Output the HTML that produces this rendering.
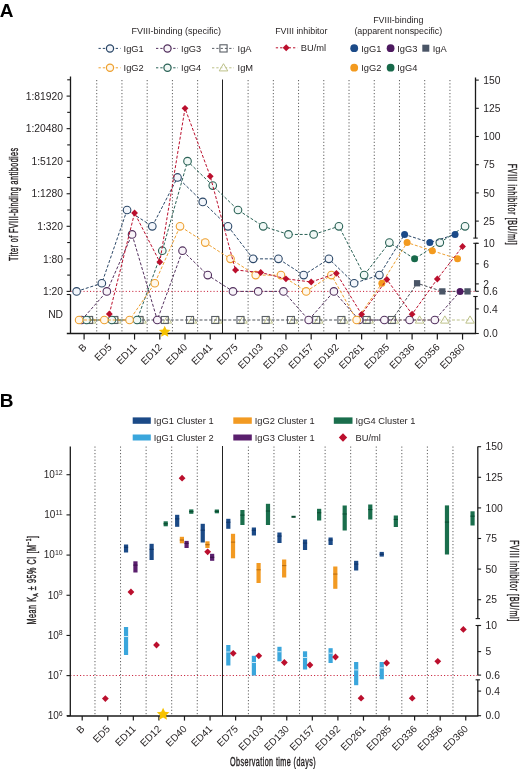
<!DOCTYPE html>
<html><head><meta charset="utf-8"><style>
html,body{margin:0;padding:0;background:#fff;}
svg{display:block;will-change:transform;}
text{font-family:"Liberation Sans",sans-serif;}
</style></head><body>
<svg width="520" height="769" viewBox="0 0 520 769" font-family="Liberation Sans, sans-serif">
<rect width="520" height="769" fill="#fff"/>
<text x="-0.20" y="16.50" font-size="19" text-anchor="start" fill="#000" font-weight="bold">A</text>
<line x1="96.72" y1="80.00" x2="96.72" y2="333.50" stroke="#5e5e5e" stroke-width="1.0" stroke-dasharray="1.2,2.05"/>
<line x1="121.95" y1="80.00" x2="121.95" y2="333.50" stroke="#5e5e5e" stroke-width="1.0" stroke-dasharray="1.2,2.05"/>
<line x1="147.18" y1="80.00" x2="147.18" y2="333.50" stroke="#5e5e5e" stroke-width="1.0" stroke-dasharray="1.2,2.05"/>
<line x1="172.41" y1="80.00" x2="172.41" y2="333.50" stroke="#5e5e5e" stroke-width="1.0" stroke-dasharray="1.2,2.05"/>
<line x1="197.64" y1="80.00" x2="197.64" y2="333.50" stroke="#5e5e5e" stroke-width="1.0" stroke-dasharray="1.2,2.05"/>
<line x1="222.50" y1="79.50" x2="222.50" y2="333.50" stroke="#222" stroke-width="1.0"/>
<line x1="248.10" y1="80.00" x2="248.10" y2="333.50" stroke="#5e5e5e" stroke-width="1.0" stroke-dasharray="1.2,2.05"/>
<line x1="273.33" y1="80.00" x2="273.33" y2="333.50" stroke="#5e5e5e" stroke-width="1.0" stroke-dasharray="1.2,2.05"/>
<line x1="298.56" y1="80.00" x2="298.56" y2="333.50" stroke="#5e5e5e" stroke-width="1.0" stroke-dasharray="1.2,2.05"/>
<line x1="323.79" y1="80.00" x2="323.79" y2="333.50" stroke="#5e5e5e" stroke-width="1.0" stroke-dasharray="1.2,2.05"/>
<line x1="349.02" y1="80.00" x2="349.02" y2="333.50" stroke="#5e5e5e" stroke-width="1.0" stroke-dasharray="1.2,2.05"/>
<line x1="374.25" y1="80.00" x2="374.25" y2="333.50" stroke="#5e5e5e" stroke-width="1.0" stroke-dasharray="1.2,2.05"/>
<line x1="399.48" y1="80.00" x2="399.48" y2="333.50" stroke="#5e5e5e" stroke-width="1.0" stroke-dasharray="1.2,2.05"/>
<line x1="424.71" y1="80.00" x2="424.71" y2="333.50" stroke="#5e5e5e" stroke-width="1.0" stroke-dasharray="1.2,2.05"/>
<line x1="449.94" y1="80.00" x2="449.94" y2="333.50" stroke="#5e5e5e" stroke-width="1.0" stroke-dasharray="1.2,2.05"/>
<line x1="70.50" y1="291.40" x2="475.50" y2="291.40" stroke="#c8203a" stroke-width="1.0" stroke-dasharray="1.1,2.15"/>
<line x1="70.50" y1="76.50" x2="70.50" y2="291.60" stroke="#1a1a1a" stroke-width="1.3"/>
<line x1="70.50" y1="294.50" x2="70.50" y2="333.50" stroke="#1a1a1a" stroke-width="1.3"/>
<line x1="66.80" y1="294.50" x2="70.50" y2="294.50" stroke="#1a1a1a" stroke-width="1.1"/>
<line x1="66.80" y1="333.50" x2="476.10" y2="333.50" stroke="#1a1a1a" stroke-width="1.3"/>
<line x1="66.60" y1="96.10" x2="70.50" y2="96.10" stroke="#1a1a1a" stroke-width="1.1"/>
<text x="63.00" y="99.80" font-size="10.3" text-anchor="end" fill="#231f20">1:81920</text>
<line x1="67.20" y1="79.80" x2="70.50" y2="79.80" stroke="#1a1a1a" stroke-width="1.1"/>
<line x1="66.60" y1="128.65" x2="70.50" y2="128.65" stroke="#1a1a1a" stroke-width="1.1"/>
<text x="63.00" y="132.35" font-size="10.3" text-anchor="end" fill="#231f20">1:20480</text>
<line x1="67.20" y1="112.35" x2="70.50" y2="112.35" stroke="#1a1a1a" stroke-width="1.1"/>
<line x1="66.60" y1="161.20" x2="70.50" y2="161.20" stroke="#1a1a1a" stroke-width="1.1"/>
<text x="63.00" y="164.90" font-size="10.3" text-anchor="end" fill="#231f20">1:5120</text>
<line x1="67.20" y1="144.90" x2="70.50" y2="144.90" stroke="#1a1a1a" stroke-width="1.1"/>
<line x1="66.60" y1="193.75" x2="70.50" y2="193.75" stroke="#1a1a1a" stroke-width="1.1"/>
<text x="63.00" y="197.45" font-size="10.3" text-anchor="end" fill="#231f20">1:1280</text>
<line x1="67.20" y1="177.45" x2="70.50" y2="177.45" stroke="#1a1a1a" stroke-width="1.1"/>
<line x1="66.60" y1="226.30" x2="70.50" y2="226.30" stroke="#1a1a1a" stroke-width="1.1"/>
<text x="63.00" y="230.00" font-size="10.3" text-anchor="end" fill="#231f20">1:320</text>
<line x1="67.20" y1="210.00" x2="70.50" y2="210.00" stroke="#1a1a1a" stroke-width="1.1"/>
<line x1="66.60" y1="258.85" x2="70.50" y2="258.85" stroke="#1a1a1a" stroke-width="1.1"/>
<text x="63.00" y="262.55" font-size="10.3" text-anchor="end" fill="#231f20">1:80</text>
<line x1="67.20" y1="242.55" x2="70.50" y2="242.55" stroke="#1a1a1a" stroke-width="1.1"/>
<line x1="66.60" y1="291.40" x2="70.50" y2="291.40" stroke="#1a1a1a" stroke-width="1.1"/>
<text x="63.00" y="295.10" font-size="10.3" text-anchor="end" fill="#231f20">1:20</text>
<line x1="67.20" y1="275.10" x2="70.50" y2="275.10" stroke="#1a1a1a" stroke-width="1.1"/>
<text x="63.00" y="317.70" font-size="10.3" text-anchor="end" fill="#231f20">ND</text>
<line x1="475.50" y1="77.50" x2="475.50" y2="238.10" stroke="#1a1a1a" stroke-width="1.3"/>
<line x1="473.30" y1="238.10" x2="477.70" y2="238.10" stroke="#1a1a1a" stroke-width="1.1"/>
<line x1="475.50" y1="243.30" x2="475.50" y2="291.30" stroke="#1a1a1a" stroke-width="1.3"/>
<line x1="473.30" y1="243.30" x2="477.70" y2="243.30" stroke="#1a1a1a" stroke-width="1.1"/>
<line x1="475.50" y1="296.50" x2="475.50" y2="333.50" stroke="#1a1a1a" stroke-width="1.3"/>
<line x1="473.30" y1="296.50" x2="477.70" y2="296.50" stroke="#1a1a1a" stroke-width="1.1"/>
<line x1="475.50" y1="80.10" x2="478.80" y2="80.10" stroke="#1a1a1a" stroke-width="1.1"/>
<text x="483.30" y="83.80" font-size="10.3" text-anchor="start" fill="#231f20">150</text>
<line x1="475.50" y1="108.30" x2="478.80" y2="108.30" stroke="#1a1a1a" stroke-width="1.1"/>
<text x="483.30" y="112.00" font-size="10.3" text-anchor="start" fill="#231f20">125</text>
<line x1="475.50" y1="136.50" x2="478.80" y2="136.50" stroke="#1a1a1a" stroke-width="1.1"/>
<text x="483.30" y="140.20" font-size="10.3" text-anchor="start" fill="#231f20">100</text>
<line x1="475.50" y1="164.70" x2="478.80" y2="164.70" stroke="#1a1a1a" stroke-width="1.1"/>
<text x="483.30" y="168.40" font-size="10.3" text-anchor="start" fill="#231f20">75</text>
<line x1="475.50" y1="192.90" x2="478.80" y2="192.90" stroke="#1a1a1a" stroke-width="1.1"/>
<text x="483.30" y="196.60" font-size="10.3" text-anchor="start" fill="#231f20">50</text>
<line x1="475.50" y1="221.10" x2="478.80" y2="221.10" stroke="#1a1a1a" stroke-width="1.1"/>
<text x="483.30" y="224.80" font-size="10.3" text-anchor="start" fill="#231f20">25</text>
<line x1="475.50" y1="243.30" x2="478.80" y2="243.30" stroke="#1a1a1a" stroke-width="1.1"/>
<text x="483.30" y="247.00" font-size="10.3" text-anchor="start" fill="#231f20">10</text>
<line x1="475.50" y1="263.80" x2="478.80" y2="263.80" stroke="#1a1a1a" stroke-width="1.1"/>
<text x="483.30" y="267.50" font-size="10.3" text-anchor="start" fill="#231f20">6</text>
<line x1="475.50" y1="283.90" x2="478.80" y2="283.90" stroke="#1a1a1a" stroke-width="1.1"/>
<text x="483.30" y="287.60" font-size="10.3" text-anchor="start" fill="#231f20">2</text>
<line x1="475.50" y1="291.30" x2="478.80" y2="291.30" stroke="#1a1a1a" stroke-width="1.1"/>
<text x="483.30" y="295.00" font-size="10.3" text-anchor="start" fill="#231f20">0.6</text>
<line x1="475.50" y1="308.90" x2="478.80" y2="308.90" stroke="#1a1a1a" stroke-width="1.1"/>
<text x="483.30" y="312.60" font-size="10.3" text-anchor="start" fill="#231f20">0.4</text>
<line x1="475.50" y1="333.50" x2="478.80" y2="333.50" stroke="#1a1a1a" stroke-width="1.1"/>
<text x="483.30" y="337.20" font-size="10.3" text-anchor="start" fill="#231f20">0.0</text>
<line x1="84.10" y1="333.50" x2="84.10" y2="339.60" stroke="#1a1a1a" stroke-width="1.2"/>
<text transform="translate(87.10,347.80) rotate(-45)" font-size="10" text-anchor="end" fill="#231f20">B</text>
<line x1="109.33" y1="333.50" x2="109.33" y2="339.60" stroke="#1a1a1a" stroke-width="1.2"/>
<text transform="translate(112.33,347.80) rotate(-45)" font-size="10" text-anchor="end" fill="#231f20">ED5</text>
<line x1="134.56" y1="333.50" x2="134.56" y2="339.60" stroke="#1a1a1a" stroke-width="1.2"/>
<text transform="translate(137.56,347.80) rotate(-45)" font-size="10" text-anchor="end" fill="#231f20">ED11</text>
<line x1="159.79" y1="333.50" x2="159.79" y2="339.60" stroke="#1a1a1a" stroke-width="1.2"/>
<text transform="translate(162.79,347.80) rotate(-45)" font-size="10" text-anchor="end" fill="#231f20">ED12</text>
<line x1="185.02" y1="333.50" x2="185.02" y2="339.60" stroke="#1a1a1a" stroke-width="1.2"/>
<text transform="translate(188.02,347.80) rotate(-45)" font-size="10" text-anchor="end" fill="#231f20">ED40</text>
<line x1="210.25" y1="333.50" x2="210.25" y2="339.60" stroke="#1a1a1a" stroke-width="1.2"/>
<text transform="translate(213.25,347.80) rotate(-45)" font-size="10" text-anchor="end" fill="#231f20">ED41</text>
<line x1="235.48" y1="333.50" x2="235.48" y2="339.60" stroke="#1a1a1a" stroke-width="1.2"/>
<text transform="translate(238.48,347.80) rotate(-45)" font-size="10" text-anchor="end" fill="#231f20">ED75</text>
<line x1="260.71" y1="333.50" x2="260.71" y2="339.60" stroke="#1a1a1a" stroke-width="1.2"/>
<text transform="translate(263.71,347.80) rotate(-45)" font-size="10" text-anchor="end" fill="#231f20">ED103</text>
<line x1="285.94" y1="333.50" x2="285.94" y2="339.60" stroke="#1a1a1a" stroke-width="1.2"/>
<text transform="translate(288.94,347.80) rotate(-45)" font-size="10" text-anchor="end" fill="#231f20">ED130</text>
<line x1="311.17" y1="333.50" x2="311.17" y2="339.60" stroke="#1a1a1a" stroke-width="1.2"/>
<text transform="translate(314.17,347.80) rotate(-45)" font-size="10" text-anchor="end" fill="#231f20">ED157</text>
<line x1="336.40" y1="333.50" x2="336.40" y2="339.60" stroke="#1a1a1a" stroke-width="1.2"/>
<text transform="translate(339.40,347.80) rotate(-45)" font-size="10" text-anchor="end" fill="#231f20">ED192</text>
<line x1="361.63" y1="333.50" x2="361.63" y2="339.60" stroke="#1a1a1a" stroke-width="1.2"/>
<text transform="translate(364.63,347.80) rotate(-45)" font-size="10" text-anchor="end" fill="#231f20">ED261</text>
<line x1="386.86" y1="333.50" x2="386.86" y2="339.60" stroke="#1a1a1a" stroke-width="1.2"/>
<text transform="translate(389.86,347.80) rotate(-45)" font-size="10" text-anchor="end" fill="#231f20">ED285</text>
<line x1="412.09" y1="333.50" x2="412.09" y2="339.60" stroke="#1a1a1a" stroke-width="1.2"/>
<text transform="translate(415.09,347.80) rotate(-45)" font-size="10" text-anchor="end" fill="#231f20">ED336</text>
<line x1="437.32" y1="333.50" x2="437.32" y2="339.60" stroke="#1a1a1a" stroke-width="1.2"/>
<text transform="translate(440.32,347.80) rotate(-45)" font-size="10" text-anchor="end" fill="#231f20">ED356</text>
<line x1="462.55" y1="333.50" x2="462.55" y2="339.60" stroke="#1a1a1a" stroke-width="1.2"/>
<text transform="translate(465.55,347.80) rotate(-45)" font-size="10" text-anchor="end" fill="#231f20">ED360</text>
<text transform="translate(17.8,204.2) rotate(-90) scale(0.6,1)" font-size="12" letter-spacing="0.698" text-anchor="middle" fill="#231f20" stroke="#231f20" stroke-width="0.4">Titer of FVIII-binding antibodies</text>
<text transform="translate(507.6,204.55) rotate(90) scale(0.6,1)" font-size="12" letter-spacing="0.992" text-anchor="middle" fill="#231f20" stroke="#231f20" stroke-width="0.4">FVIII inhibitor [BU/ml]</text>
<polyline points="394.36,320.00 419.59,320.00 444.82,320.00 470.05,320.00" fill="none" stroke="#bcc088" stroke-width="1.0" stroke-dasharray="3,1.8"/>
<path d="M91.60 315.90L95.89 323.12L87.31 323.12Z" fill="white" fill-opacity="0.6" stroke="#bcc088" stroke-width="1.0"/>
<path d="M116.83 315.90L121.12 323.12L112.54 323.12Z" fill="white" fill-opacity="0.6" stroke="#bcc088" stroke-width="1.0"/>
<path d="M142.06 315.90L146.35 323.12L137.77 323.12Z" fill="white" fill-opacity="0.6" stroke="#bcc088" stroke-width="1.0"/>
<path d="M167.29 315.90L171.58 323.12L163.00 323.12Z" fill="white" fill-opacity="0.6" stroke="#bcc088" stroke-width="1.0"/>
<path d="M192.52 315.90L196.81 323.12L188.23 323.12Z" fill="white" fill-opacity="0.6" stroke="#bcc088" stroke-width="1.0"/>
<path d="M217.75 315.90L222.04 323.12L213.46 323.12Z" fill="white" fill-opacity="0.6" stroke="#bcc088" stroke-width="1.0"/>
<path d="M242.98 315.90L247.27 323.12L238.69 323.12Z" fill="white" fill-opacity="0.6" stroke="#bcc088" stroke-width="1.0"/>
<path d="M268.21 315.90L272.50 323.12L263.92 323.12Z" fill="white" fill-opacity="0.6" stroke="#bcc088" stroke-width="1.0"/>
<path d="M293.44 315.90L297.73 323.12L289.15 323.12Z" fill="white" fill-opacity="0.6" stroke="#bcc088" stroke-width="1.0"/>
<path d="M318.67 315.90L322.96 323.12L314.38 323.12Z" fill="white" fill-opacity="0.6" stroke="#bcc088" stroke-width="1.0"/>
<path d="M343.90 315.90L348.19 323.12L339.61 323.12Z" fill="white" fill-opacity="0.6" stroke="#bcc088" stroke-width="1.0"/>
<path d="M369.13 315.90L373.42 323.12L364.84 323.12Z" fill="white" fill-opacity="0.6" stroke="#bcc088" stroke-width="1.0"/>
<path d="M394.36 315.90L398.65 323.12L390.07 323.12Z" fill="white" fill-opacity="0.6" stroke="#bcc088" stroke-width="1.0"/>
<path d="M419.59 315.90L423.88 323.12L415.30 323.12Z" fill="white" fill-opacity="0.6" stroke="#bcc088" stroke-width="1.0"/>
<path d="M444.82 315.90L449.11 323.12L440.53 323.12Z" fill="white" fill-opacity="0.6" stroke="#bcc088" stroke-width="1.0"/>
<path d="M470.05 315.90L474.34 323.12L465.76 323.12Z" fill="white" fill-opacity="0.6" stroke="#bcc088" stroke-width="1.0"/>
<polyline points="89.10,320.00 114.33,320.00 139.56,320.00 164.79,320.00 190.02,320.00 215.25,320.00 240.48,320.00 265.71,320.00 290.94,320.00 316.17,320.00 341.40,320.00 366.63,320.00 391.86,320.00 417.09,283.26 442.32,291.40 467.55,291.40" fill="none" stroke="#4a4f57" stroke-width="1.0" stroke-dasharray="3,1.8"/>
<rect x="85.60" y="316.50" width="7.00" height="7.00" fill="none" stroke="#5a5f66" stroke-width="1.1"/>
<rect x="110.83" y="316.50" width="7.00" height="7.00" fill="none" stroke="#5a5f66" stroke-width="1.1"/>
<rect x="136.06" y="316.50" width="7.00" height="7.00" fill="none" stroke="#5a5f66" stroke-width="1.1"/>
<rect x="161.29" y="316.50" width="7.00" height="7.00" fill="none" stroke="#5a5f66" stroke-width="1.1"/>
<rect x="186.52" y="316.50" width="7.00" height="7.00" fill="none" stroke="#5a5f66" stroke-width="1.1"/>
<rect x="211.75" y="316.50" width="7.00" height="7.00" fill="none" stroke="#5a5f66" stroke-width="1.1"/>
<rect x="236.98" y="316.50" width="7.00" height="7.00" fill="none" stroke="#5a5f66" stroke-width="1.1"/>
<rect x="262.21" y="316.50" width="7.00" height="7.00" fill="none" stroke="#5a5f66" stroke-width="1.1"/>
<rect x="287.44" y="316.50" width="7.00" height="7.00" fill="none" stroke="#5a5f66" stroke-width="1.1"/>
<rect x="312.67" y="316.50" width="7.00" height="7.00" fill="none" stroke="#5a5f66" stroke-width="1.1"/>
<rect x="337.90" y="316.50" width="7.00" height="7.00" fill="none" stroke="#5a5f66" stroke-width="1.1"/>
<rect x="363.13" y="316.50" width="7.00" height="7.00" fill="none" stroke="#5a5f66" stroke-width="1.1"/>
<rect x="388.36" y="316.50" width="7.00" height="7.00" fill="none" stroke="#5a5f66" stroke-width="1.1"/>
<rect x="413.94" y="280.11" width="6.30" height="6.30" fill="#4a5566"/>
<rect x="439.17" y="288.25" width="6.30" height="6.30" fill="#4a5566"/>
<rect x="464.40" y="288.25" width="6.30" height="6.30" fill="#4a5566"/>
<polyline points="81.60,320.00 106.83,291.40 132.06,234.44 157.29,320.00 182.52,250.71 207.75,275.12 232.98,291.40 258.21,291.40 283.44,291.40 308.67,320.00 333.90,291.40 359.13,320.00 384.36,320.00 409.59,320.00 434.82,320.00 460.05,291.40" fill="none" stroke="#52305e" stroke-width="1.0" stroke-dasharray="3,1.8"/>
<circle cx="81.60" cy="320.00" r="3.8" fill="#f8f4f9" stroke="#52305e" stroke-width="1.1"/>
<circle cx="106.83" cy="291.40" r="3.8" fill="#f8f4f9" stroke="#52305e" stroke-width="1.1"/>
<circle cx="132.06" cy="234.44" r="3.8" fill="#f8f4f9" stroke="#52305e" stroke-width="1.1"/>
<circle cx="157.29" cy="320.00" r="3.8" fill="#f8f4f9" stroke="#52305e" stroke-width="1.1"/>
<circle cx="182.52" cy="250.71" r="3.8" fill="#f8f4f9" stroke="#52305e" stroke-width="1.1"/>
<circle cx="207.75" cy="275.12" r="3.8" fill="#f8f4f9" stroke="#52305e" stroke-width="1.1"/>
<circle cx="232.98" cy="291.40" r="3.8" fill="#f8f4f9" stroke="#52305e" stroke-width="1.1"/>
<circle cx="258.21" cy="291.40" r="3.8" fill="#f8f4f9" stroke="#52305e" stroke-width="1.1"/>
<circle cx="283.44" cy="291.40" r="3.8" fill="#f8f4f9" stroke="#52305e" stroke-width="1.1"/>
<circle cx="308.67" cy="320.00" r="3.8" fill="#f8f4f9" stroke="#52305e" stroke-width="1.1"/>
<circle cx="333.90" cy="291.40" r="3.8" fill="#f8f4f9" stroke="#52305e" stroke-width="1.1"/>
<circle cx="359.13" cy="320.00" r="3.8" fill="#f8f4f9" stroke="#52305e" stroke-width="1.1"/>
<circle cx="384.36" cy="320.00" r="3.8" fill="#f8f4f9" stroke="#52305e" stroke-width="1.1"/>
<circle cx="409.59" cy="320.00" r="3.8" fill="#f8f4f9" stroke="#52305e" stroke-width="1.1"/>
<circle cx="434.82" cy="320.00" r="3.8" fill="#f8f4f9" stroke="#52305e" stroke-width="1.1"/>
<circle cx="460.05" cy="291.40" r="3.5" fill="#4d1a60"/>
<polyline points="86.60,320.00 111.83,320.00 137.06,320.00 162.29,250.71 187.52,161.20 212.75,185.61 237.98,210.02 263.21,226.30 288.44,234.44 313.67,234.44 338.90,226.30 364.13,275.12 389.36,242.57 414.59,258.85 439.82,242.57 465.05,226.30" fill="none" stroke="#2a6256" stroke-width="1.0" stroke-dasharray="3,1.8"/>
<circle cx="86.60" cy="320.00" r="3.8" fill="#f1f8f6" stroke="#2a6256" stroke-width="1.1"/>
<circle cx="111.83" cy="320.00" r="3.8" fill="#f1f8f6" stroke="#2a6256" stroke-width="1.1"/>
<circle cx="137.06" cy="320.00" r="3.8" fill="#f1f8f6" stroke="#2a6256" stroke-width="1.1"/>
<circle cx="162.29" cy="250.71" r="3.8" fill="#f1f8f6" stroke="#2a6256" stroke-width="1.1"/>
<circle cx="187.52" cy="161.20" r="3.8" fill="#f1f8f6" stroke="#2a6256" stroke-width="1.1"/>
<circle cx="212.75" cy="185.61" r="3.8" fill="#f1f8f6" stroke="#2a6256" stroke-width="1.1"/>
<circle cx="237.98" cy="210.02" r="3.8" fill="#f1f8f6" stroke="#2a6256" stroke-width="1.1"/>
<circle cx="263.21" cy="226.30" r="3.8" fill="#f1f8f6" stroke="#2a6256" stroke-width="1.1"/>
<circle cx="288.44" cy="234.44" r="3.8" fill="#f1f8f6" stroke="#2a6256" stroke-width="1.1"/>
<circle cx="313.67" cy="234.44" r="3.8" fill="#f1f8f6" stroke="#2a6256" stroke-width="1.1"/>
<circle cx="338.90" cy="226.30" r="3.8" fill="#f1f8f6" stroke="#2a6256" stroke-width="1.1"/>
<circle cx="364.13" cy="275.12" r="3.8" fill="#f1f8f6" stroke="#2a6256" stroke-width="1.1"/>
<circle cx="389.36" cy="242.57" r="3.8" fill="#f1f8f6" stroke="#2a6256" stroke-width="1.1"/>
<circle cx="414.59" cy="258.85" r="3.5" fill="#17694a"/>
<circle cx="439.82" cy="242.57" r="3.8" fill="#f1f8f6" stroke="#2a6256" stroke-width="1.1"/>
<circle cx="465.05" cy="226.30" r="3.8" fill="#f1f8f6" stroke="#2a6256" stroke-width="1.1"/>
<polyline points="76.60,291.40 101.83,283.26 127.06,210.02 152.29,226.30 177.52,177.47 202.75,201.89 227.98,226.30 253.21,258.85 278.44,258.85 303.67,275.12 328.90,258.85 354.13,283.26 379.36,275.12 404.59,234.44 429.82,242.57 455.05,234.44" fill="none" stroke="#2c4868" stroke-width="1.0" stroke-dasharray="3,1.8"/>
<circle cx="76.60" cy="291.40" r="3.8" fill="#f3f6fb" stroke="#2c4868" stroke-width="1.1"/>
<circle cx="101.83" cy="283.26" r="3.8" fill="#f3f6fb" stroke="#2c4868" stroke-width="1.1"/>
<circle cx="127.06" cy="210.02" r="3.8" fill="#f3f6fb" stroke="#2c4868" stroke-width="1.1"/>
<circle cx="152.29" cy="226.30" r="3.8" fill="#f3f6fb" stroke="#2c4868" stroke-width="1.1"/>
<circle cx="177.52" cy="177.47" r="3.8" fill="#f3f6fb" stroke="#2c4868" stroke-width="1.1"/>
<circle cx="202.75" cy="201.89" r="3.8" fill="#f3f6fb" stroke="#2c4868" stroke-width="1.1"/>
<circle cx="227.98" cy="226.30" r="3.8" fill="#f3f6fb" stroke="#2c4868" stroke-width="1.1"/>
<circle cx="253.21" cy="258.85" r="3.8" fill="#f3f6fb" stroke="#2c4868" stroke-width="1.1"/>
<circle cx="278.44" cy="258.85" r="3.8" fill="#f3f6fb" stroke="#2c4868" stroke-width="1.1"/>
<circle cx="303.67" cy="275.12" r="3.8" fill="#f3f6fb" stroke="#2c4868" stroke-width="1.1"/>
<circle cx="328.90" cy="258.85" r="3.8" fill="#f3f6fb" stroke="#2c4868" stroke-width="1.1"/>
<circle cx="354.13" cy="283.26" r="3.8" fill="#f3f6fb" stroke="#2c4868" stroke-width="1.1"/>
<circle cx="379.36" cy="275.12" r="3.8" fill="#f3f6fb" stroke="#2c4868" stroke-width="1.1"/>
<circle cx="404.59" cy="234.44" r="3.5" fill="#1b4a88"/>
<circle cx="429.82" cy="242.57" r="3.5" fill="#1b4a88"/>
<circle cx="455.05" cy="234.44" r="3.5" fill="#1b4a88"/>
<polyline points="79.10,320.00 104.33,320.00 129.56,320.00 154.79,283.26 180.02,226.30 205.25,242.57 230.48,258.85 255.71,275.12 280.94,275.12 306.17,291.40 331.40,275.12 356.63,320.00 381.86,283.26 407.09,242.57 432.32,250.71 457.55,258.85" fill="none" stroke="#eea030" stroke-width="1.0" stroke-dasharray="3,1.8"/>
<circle cx="79.10" cy="320.00" r="3.8" fill="#fff8ec" stroke="#eea030" stroke-width="1.1"/>
<circle cx="104.33" cy="320.00" r="3.8" fill="#fff8ec" stroke="#eea030" stroke-width="1.1"/>
<circle cx="129.56" cy="320.00" r="3.8" fill="#fff8ec" stroke="#eea030" stroke-width="1.1"/>
<circle cx="154.79" cy="283.26" r="3.8" fill="#fff8ec" stroke="#eea030" stroke-width="1.1"/>
<circle cx="180.02" cy="226.30" r="3.8" fill="#fff8ec" stroke="#eea030" stroke-width="1.1"/>
<circle cx="205.25" cy="242.57" r="3.8" fill="#fff8ec" stroke="#eea030" stroke-width="1.1"/>
<circle cx="230.48" cy="258.85" r="3.8" fill="#fff8ec" stroke="#eea030" stroke-width="1.1"/>
<circle cx="255.71" cy="275.12" r="3.8" fill="#fff8ec" stroke="#eea030" stroke-width="1.1"/>
<circle cx="280.94" cy="275.12" r="3.8" fill="#fff8ec" stroke="#eea030" stroke-width="1.1"/>
<circle cx="306.17" cy="291.40" r="3.8" fill="#fff8ec" stroke="#eea030" stroke-width="1.1"/>
<circle cx="331.40" cy="275.12" r="3.8" fill="#fff8ec" stroke="#eea030" stroke-width="1.1"/>
<circle cx="356.63" cy="320.00" r="3.8" fill="#fff8ec" stroke="#eea030" stroke-width="1.1"/>
<circle cx="381.86" cy="283.26" r="3.5" fill="#f39a1e"/>
<circle cx="407.09" cy="242.57" r="3.5" fill="#f39a1e"/>
<circle cx="432.32" cy="250.71" r="3.5" fill="#f39a1e"/>
<circle cx="457.55" cy="258.85" r="3.5" fill="#f39a1e"/>
<polyline points="109.33,314.00 134.56,213.00 159.79,262.00 185.02,108.30 210.25,176.30 235.48,270.00 260.71,272.50 285.94,278.80 311.17,282.00 336.40,273.30 361.63,314.30 386.86,279.50 412.09,314.20 437.32,279.00 462.55,246.50" fill="none" stroke="#bb0f2d" stroke-width="1.0" stroke-dasharray="3,1.8"/>
<path d="M109.33 310.60L112.73 314.00L109.33 317.40L105.93 314.00Z" fill="#bb0f2d"/>
<path d="M134.56 209.60L137.96 213.00L134.56 216.40L131.16 213.00Z" fill="#bb0f2d"/>
<path d="M159.79 258.60L163.19 262.00L159.79 265.40L156.39 262.00Z" fill="#bb0f2d"/>
<path d="M185.02 104.90L188.42 108.30L185.02 111.70L181.62 108.30Z" fill="#bb0f2d"/>
<path d="M210.25 172.90L213.65 176.30L210.25 179.70L206.85 176.30Z" fill="#bb0f2d"/>
<path d="M235.48 266.60L238.88 270.00L235.48 273.40L232.08 270.00Z" fill="#bb0f2d"/>
<path d="M260.71 269.10L264.11 272.50L260.71 275.90L257.31 272.50Z" fill="#bb0f2d"/>
<path d="M285.94 275.40L289.34 278.80L285.94 282.20L282.54 278.80Z" fill="#bb0f2d"/>
<path d="M311.17 278.60L314.57 282.00L311.17 285.40L307.77 282.00Z" fill="#bb0f2d"/>
<path d="M336.40 269.90L339.80 273.30L336.40 276.70L333.00 273.30Z" fill="#bb0f2d"/>
<path d="M361.63 310.90L365.03 314.30L361.63 317.70L358.23 314.30Z" fill="#bb0f2d"/>
<path d="M386.86 276.10L390.26 279.50L386.86 282.90L383.46 279.50Z" fill="#bb0f2d"/>
<path d="M412.09 310.80L415.49 314.20L412.09 317.60L408.69 314.20Z" fill="#bb0f2d"/>
<path d="M437.32 275.60L440.72 279.00L437.32 282.40L433.92 279.00Z" fill="#bb0f2d"/>
<path d="M462.55 243.10L465.95 246.50L462.55 249.90L459.15 246.50Z" fill="#bb0f2d"/>
<polygon points="164.70,325.70 166.42,329.43 170.50,329.91 167.48,332.70 168.29,336.74 164.70,334.73 161.11,336.74 161.92,332.70 158.90,329.91 162.98,329.43" fill="#f7c200"/>
<text x="176.20" y="34.00" font-size="9.0" text-anchor="middle" fill="#231f20">FVIII-binding (specific)</text>
<line x1="98.50" y1="48.40" x2="120.50" y2="48.40" stroke="#2c4868" stroke-width="1.0" stroke-dasharray="2.3,2"/>
<circle cx="110.00" cy="48.40" r="3.6" fill="#f3f6fb" stroke="#2c4868" stroke-width="1.25"/>
<text x="123.60" y="51.70" font-size="9.3" text-anchor="start" fill="#231f20">IgG1</text>
<line x1="156.00" y1="48.40" x2="178.00" y2="48.40" stroke="#52305e" stroke-width="1.0" stroke-dasharray="2.3,2"/>
<circle cx="167.50" cy="48.40" r="3.6" fill="#f8f4f9" stroke="#52305e" stroke-width="1.25"/>
<text x="181.10" y="51.70" font-size="9.3" text-anchor="start" fill="#231f20">IgG3</text>
<line x1="98.50" y1="67.80" x2="120.50" y2="67.80" stroke="#eea030" stroke-width="1.0" stroke-dasharray="2.3,2"/>
<circle cx="110.00" cy="67.80" r="3.6" fill="#fff8ec" stroke="#eea030" stroke-width="1.25"/>
<text x="123.60" y="71.10" font-size="9.3" text-anchor="start" fill="#231f20">IgG2</text>
<line x1="156.00" y1="67.80" x2="178.00" y2="67.80" stroke="#2a6256" stroke-width="1.0" stroke-dasharray="2.3,2"/>
<circle cx="167.50" cy="67.80" r="3.6" fill="#f1f8f6" stroke="#2a6256" stroke-width="1.25"/>
<text x="181.10" y="71.10" font-size="9.3" text-anchor="start" fill="#231f20">IgG4</text>
<line x1="212.00" y1="48.40" x2="234.00" y2="48.40" stroke="#5a5f66" stroke-width="1.0" stroke-dasharray="2.3,2"/>
<rect x="219.90" y="44.80" width="7.20" height="7.20" fill="none" stroke="#5a5f66" stroke-width="1.1"/>
<text x="237.60" y="51.70" font-size="9.3" text-anchor="start" fill="#231f20">IgA</text>
<line x1="212.00" y1="67.80" x2="234.00" y2="67.80" stroke="#bcc088" stroke-width="1.0" stroke-dasharray="2.3,2"/>
<path d="M223.50 63.70L227.79 70.92L219.21 70.92Z" fill="white" fill-opacity="0.6" stroke="#bcc088" stroke-width="1.0"/>
<text x="237.60" y="71.10" font-size="9.3" text-anchor="start" fill="#231f20">IgM</text>
<text x="275.20" y="33.70" font-size="8.9" text-anchor="start" fill="#231f20">FVIII inhibitor</text>
<line x1="275.80" y1="47.80" x2="297.40" y2="47.80" stroke="#bb0f2d" stroke-width="1.0" stroke-dasharray="2.3,2"/>
<path d="M286.20 44.30L289.70 47.80L286.20 51.30L282.70 47.80Z" fill="#bb0f2d"/>
<text x="300.80" y="51.10" font-size="9.3" text-anchor="start" fill="#231f20">BU/ml</text>
<text x="398.30" y="22.80" font-size="8.9" text-anchor="middle" fill="#231f20">FVIII-binding</text>
<text x="398.30" y="34.10" font-size="8.9" text-anchor="middle" fill="#231f20">(apparent nonspecific)</text>
<circle cx="354.20" cy="48.20" r="3.9" fill="#1b4a88"/>
<text x="361.20" y="51.50" font-size="9.3" text-anchor="start" fill="#231f20">IgG1</text>
<circle cx="390.60" cy="48.20" r="3.9" fill="#4d1a60"/>
<text x="397.20" y="51.50" font-size="9.3" text-anchor="start" fill="#231f20">IgG3</text>
<rect x="422.30" y="44.70" width="7.00" height="7.00" fill="#4a5566"/>
<text x="432.70" y="51.50" font-size="9.3" text-anchor="start" fill="#231f20">IgA</text>
<circle cx="354.20" cy="67.70" r="3.9" fill="#f39a1e"/>
<text x="361.20" y="71.00" font-size="9.3" text-anchor="start" fill="#231f20">IgG2</text>
<circle cx="390.60" cy="67.70" r="3.9" fill="#17694a"/>
<text x="397.20" y="71.00" font-size="9.3" text-anchor="start" fill="#231f20">IgG4</text>
<text x="-0.30" y="406.80" font-size="19" text-anchor="start" fill="#000" font-weight="bold">B</text>
<line x1="94.98" y1="446.50" x2="94.98" y2="716.00" stroke="#5e5e5e" stroke-width="1.0" stroke-dasharray="1.2,2.05"/>
<line x1="120.55" y1="446.50" x2="120.55" y2="716.00" stroke="#5e5e5e" stroke-width="1.0" stroke-dasharray="1.2,2.05"/>
<line x1="146.12" y1="446.50" x2="146.12" y2="716.00" stroke="#5e5e5e" stroke-width="1.0" stroke-dasharray="1.2,2.05"/>
<line x1="171.69" y1="446.50" x2="171.69" y2="716.00" stroke="#5e5e5e" stroke-width="1.0" stroke-dasharray="1.2,2.05"/>
<line x1="197.26" y1="446.50" x2="197.26" y2="716.00" stroke="#5e5e5e" stroke-width="1.0" stroke-dasharray="1.2,2.05"/>
<line x1="222.50" y1="446.00" x2="222.50" y2="716.00" stroke="#222" stroke-width="1.0"/>
<line x1="248.40" y1="446.50" x2="248.40" y2="716.00" stroke="#5e5e5e" stroke-width="1.0" stroke-dasharray="1.2,2.05"/>
<line x1="273.97" y1="446.50" x2="273.97" y2="716.00" stroke="#5e5e5e" stroke-width="1.0" stroke-dasharray="1.2,2.05"/>
<line x1="299.54" y1="446.50" x2="299.54" y2="716.00" stroke="#5e5e5e" stroke-width="1.0" stroke-dasharray="1.2,2.05"/>
<line x1="325.11" y1="446.50" x2="325.11" y2="716.00" stroke="#5e5e5e" stroke-width="1.0" stroke-dasharray="1.2,2.05"/>
<line x1="350.68" y1="446.50" x2="350.68" y2="716.00" stroke="#5e5e5e" stroke-width="1.0" stroke-dasharray="1.2,2.05"/>
<line x1="376.25" y1="446.50" x2="376.25" y2="716.00" stroke="#5e5e5e" stroke-width="1.0" stroke-dasharray="1.2,2.05"/>
<line x1="401.82" y1="446.50" x2="401.82" y2="716.00" stroke="#5e5e5e" stroke-width="1.0" stroke-dasharray="1.2,2.05"/>
<line x1="427.39" y1="446.50" x2="427.39" y2="716.00" stroke="#5e5e5e" stroke-width="1.0" stroke-dasharray="1.2,2.05"/>
<line x1="452.96" y1="446.50" x2="452.96" y2="716.00" stroke="#5e5e5e" stroke-width="1.0" stroke-dasharray="1.2,2.05"/>
<line x1="70.30" y1="675.50" x2="477.80" y2="675.50" stroke="#c8203a" stroke-width="1.0" stroke-dasharray="1.1,2.15"/>
<line x1="70.30" y1="446.50" x2="70.30" y2="716.00" stroke="#1a1a1a" stroke-width="1.3"/>
<line x1="67.00" y1="716.00" x2="478.40" y2="716.00" stroke="#1a1a1a" stroke-width="1.3"/>
<line x1="66.50" y1="715.80" x2="70.30" y2="715.80" stroke="#1a1a1a" stroke-width="1.1"/>
<text x="62.7" y="719.20" font-size="10" text-anchor="end" fill="#231f20">10<tspan font-size="7" dy="-3.6">6</tspan></text>
<line x1="66.50" y1="675.62" x2="70.30" y2="675.62" stroke="#1a1a1a" stroke-width="1.1"/>
<text x="62.7" y="679.02" font-size="10" text-anchor="end" fill="#231f20">10<tspan font-size="7" dy="-3.6">7</tspan></text>
<line x1="66.50" y1="635.44" x2="70.30" y2="635.44" stroke="#1a1a1a" stroke-width="1.1"/>
<text x="62.7" y="638.84" font-size="10" text-anchor="end" fill="#231f20">10<tspan font-size="7" dy="-3.6">8</tspan></text>
<line x1="66.50" y1="595.26" x2="70.30" y2="595.26" stroke="#1a1a1a" stroke-width="1.1"/>
<text x="62.7" y="598.66" font-size="10" text-anchor="end" fill="#231f20">10<tspan font-size="7" dy="-3.6">9</tspan></text>
<line x1="66.50" y1="555.08" x2="70.30" y2="555.08" stroke="#1a1a1a" stroke-width="1.1"/>
<text x="62.7" y="558.48" font-size="10" text-anchor="end" fill="#231f20">10<tspan font-size="7" dy="-3.6">10</tspan></text>
<line x1="66.50" y1="514.90" x2="70.30" y2="514.90" stroke="#1a1a1a" stroke-width="1.1"/>
<text x="62.7" y="518.30" font-size="10" text-anchor="end" fill="#231f20">10<tspan font-size="7" dy="-3.6">11</tspan></text>
<line x1="66.50" y1="474.72" x2="70.30" y2="474.72" stroke="#1a1a1a" stroke-width="1.1"/>
<text x="62.7" y="478.12" font-size="10" text-anchor="end" fill="#231f20">10<tspan font-size="7" dy="-3.6">12</tspan></text>
<line x1="477.80" y1="446.50" x2="477.80" y2="618.60" stroke="#1a1a1a" stroke-width="1.3"/>
<line x1="475.60" y1="618.60" x2="480.00" y2="618.60" stroke="#1a1a1a" stroke-width="1.1"/>
<line x1="477.80" y1="625.50" x2="477.80" y2="675.10" stroke="#1a1a1a" stroke-width="1.3"/>
<line x1="475.60" y1="625.50" x2="480.00" y2="625.50" stroke="#1a1a1a" stroke-width="1.1"/>
<line x1="477.80" y1="679.80" x2="477.80" y2="716.00" stroke="#1a1a1a" stroke-width="1.3"/>
<line x1="475.60" y1="679.80" x2="480.00" y2="679.80" stroke="#1a1a1a" stroke-width="1.1"/>
<line x1="477.80" y1="446.70" x2="481.10" y2="446.70" stroke="#1a1a1a" stroke-width="1.1"/>
<text x="485.60" y="450.40" font-size="10.3" text-anchor="start" fill="#231f20">150</text>
<line x1="477.80" y1="477.30" x2="481.10" y2="477.30" stroke="#1a1a1a" stroke-width="1.1"/>
<text x="485.60" y="481.00" font-size="10.3" text-anchor="start" fill="#231f20">125</text>
<line x1="477.80" y1="507.90" x2="481.10" y2="507.90" stroke="#1a1a1a" stroke-width="1.1"/>
<text x="485.60" y="511.60" font-size="10.3" text-anchor="start" fill="#231f20">100</text>
<line x1="477.80" y1="538.50" x2="481.10" y2="538.50" stroke="#1a1a1a" stroke-width="1.1"/>
<text x="485.60" y="542.20" font-size="10.3" text-anchor="start" fill="#231f20">75</text>
<line x1="477.80" y1="569.10" x2="481.10" y2="569.10" stroke="#1a1a1a" stroke-width="1.1"/>
<text x="485.60" y="572.80" font-size="10.3" text-anchor="start" fill="#231f20">50</text>
<line x1="477.80" y1="599.70" x2="481.10" y2="599.70" stroke="#1a1a1a" stroke-width="1.1"/>
<text x="485.60" y="603.40" font-size="10.3" text-anchor="start" fill="#231f20">25</text>
<line x1="477.80" y1="625.50" x2="481.10" y2="625.50" stroke="#1a1a1a" stroke-width="1.1"/>
<text x="485.60" y="629.20" font-size="10.3" text-anchor="start" fill="#231f20">10</text>
<line x1="477.80" y1="651.60" x2="481.10" y2="651.60" stroke="#1a1a1a" stroke-width="1.1"/>
<text x="485.60" y="655.30" font-size="10.3" text-anchor="start" fill="#231f20">5</text>
<line x1="477.80" y1="675.10" x2="481.10" y2="675.10" stroke="#1a1a1a" stroke-width="1.1"/>
<text x="485.60" y="678.80" font-size="10.3" text-anchor="start" fill="#231f20">0.6</text>
<line x1="477.80" y1="691.10" x2="481.10" y2="691.10" stroke="#1a1a1a" stroke-width="1.1"/>
<text x="485.60" y="694.80" font-size="10.3" text-anchor="start" fill="#231f20">0.4</text>
<line x1="477.80" y1="715.70" x2="481.10" y2="715.70" stroke="#1a1a1a" stroke-width="1.1"/>
<text x="485.60" y="719.40" font-size="10.3" text-anchor="start" fill="#231f20">0.0</text>
<line x1="82.20" y1="716.00" x2="82.20" y2="720.60" stroke="#1a1a1a" stroke-width="1.2"/>
<text transform="translate(85.20,729.60) rotate(-45)" font-size="10" text-anchor="end" fill="#231f20">B</text>
<line x1="107.77" y1="716.00" x2="107.77" y2="720.60" stroke="#1a1a1a" stroke-width="1.2"/>
<text transform="translate(110.77,729.60) rotate(-45)" font-size="10" text-anchor="end" fill="#231f20">ED5</text>
<line x1="133.34" y1="716.00" x2="133.34" y2="720.60" stroke="#1a1a1a" stroke-width="1.2"/>
<text transform="translate(136.34,729.60) rotate(-45)" font-size="10" text-anchor="end" fill="#231f20">ED11</text>
<line x1="158.91" y1="716.00" x2="158.91" y2="720.60" stroke="#1a1a1a" stroke-width="1.2"/>
<text transform="translate(161.91,729.60) rotate(-45)" font-size="10" text-anchor="end" fill="#231f20">ED12</text>
<line x1="184.48" y1="716.00" x2="184.48" y2="720.60" stroke="#1a1a1a" stroke-width="1.2"/>
<text transform="translate(187.48,729.60) rotate(-45)" font-size="10" text-anchor="end" fill="#231f20">ED40</text>
<line x1="210.05" y1="716.00" x2="210.05" y2="720.60" stroke="#1a1a1a" stroke-width="1.2"/>
<text transform="translate(213.05,729.60) rotate(-45)" font-size="10" text-anchor="end" fill="#231f20">ED41</text>
<line x1="235.62" y1="716.00" x2="235.62" y2="720.60" stroke="#1a1a1a" stroke-width="1.2"/>
<text transform="translate(238.62,729.60) rotate(-45)" font-size="10" text-anchor="end" fill="#231f20">ED75</text>
<line x1="261.19" y1="716.00" x2="261.19" y2="720.60" stroke="#1a1a1a" stroke-width="1.2"/>
<text transform="translate(264.19,729.60) rotate(-45)" font-size="10" text-anchor="end" fill="#231f20">ED103</text>
<line x1="286.76" y1="716.00" x2="286.76" y2="720.60" stroke="#1a1a1a" stroke-width="1.2"/>
<text transform="translate(289.76,729.60) rotate(-45)" font-size="10" text-anchor="end" fill="#231f20">ED130</text>
<line x1="312.33" y1="716.00" x2="312.33" y2="720.60" stroke="#1a1a1a" stroke-width="1.2"/>
<text transform="translate(315.33,729.60) rotate(-45)" font-size="10" text-anchor="end" fill="#231f20">ED157</text>
<line x1="337.90" y1="716.00" x2="337.90" y2="720.60" stroke="#1a1a1a" stroke-width="1.2"/>
<text transform="translate(340.90,729.60) rotate(-45)" font-size="10" text-anchor="end" fill="#231f20">ED192</text>
<line x1="363.47" y1="716.00" x2="363.47" y2="720.60" stroke="#1a1a1a" stroke-width="1.2"/>
<text transform="translate(366.47,729.60) rotate(-45)" font-size="10" text-anchor="end" fill="#231f20">ED261</text>
<line x1="389.04" y1="716.00" x2="389.04" y2="720.60" stroke="#1a1a1a" stroke-width="1.2"/>
<text transform="translate(392.04,729.60) rotate(-45)" font-size="10" text-anchor="end" fill="#231f20">ED285</text>
<line x1="414.61" y1="716.00" x2="414.61" y2="720.60" stroke="#1a1a1a" stroke-width="1.2"/>
<text transform="translate(417.61,729.60) rotate(-45)" font-size="10" text-anchor="end" fill="#231f20">ED336</text>
<line x1="440.18" y1="716.00" x2="440.18" y2="720.60" stroke="#1a1a1a" stroke-width="1.2"/>
<text transform="translate(443.18,729.60) rotate(-45)" font-size="10" text-anchor="end" fill="#231f20">ED356</text>
<line x1="465.75" y1="716.00" x2="465.75" y2="720.60" stroke="#1a1a1a" stroke-width="1.2"/>
<text transform="translate(468.75,729.60) rotate(-45)" font-size="10" text-anchor="end" fill="#231f20">ED360</text>
<text transform="translate(35.6,580) rotate(-90) scale(0.6,1)" font-size="12" letter-spacing="0.936" text-anchor="middle" fill="#231f20" stroke="#231f20" stroke-width="0.4">Mean K<tspan font-size="8" dy="2.5">A</tspan><tspan dy="-2.5"> ± 95% CI [M</tspan><tspan font-size="8" dy="-4.5">−1</tspan><tspan dy="4.5">]</tspan></text>
<text transform="translate(510.2,581) rotate(90) scale(0.6,1)" font-size="12" letter-spacing="0.992" text-anchor="middle" fill="#231f20" stroke="#231f20" stroke-width="0.4">FVIII inhibitor [BU/ml]</text>
<text transform="translate(273.1,765.7) scale(0.6,1)" font-size="12" letter-spacing="0.708" text-anchor="middle" fill="#231f20" stroke="#231f20" stroke-width="0.4">Observation time (days)</text>
<rect x="163.61" y="521.30" width="4.2" height="5.00" fill="#1a6e4c"/>
<rect x="163.61" y="523.20" width="4.2" height="1.2" fill="#0b4a30"/>
<rect x="189.18" y="509.40" width="4.2" height="4.40" fill="#1a6e4c"/>
<rect x="189.18" y="511.00" width="4.2" height="1.2" fill="#0b4a30"/>
<rect x="214.75" y="509.50" width="4.2" height="3.80" fill="#1a6e4c"/>
<rect x="214.75" y="510.80" width="4.2" height="1.2" fill="#0b4a30"/>
<rect x="240.32" y="510.00" width="4.2" height="15.00" fill="#1a6e4c"/>
<rect x="240.32" y="514.60" width="4.2" height="1" fill="#0b4a30"/>
<rect x="265.89" y="503.80" width="4.2" height="21.20" fill="#1a6e4c"/>
<rect x="265.89" y="510.51" width="4.2" height="1" fill="#0b4a30"/>
<rect x="291.46" y="515.80" width="4.2" height="2.00" fill="#0b4a30"/>
<rect x="317.03" y="508.80" width="4.2" height="11.70" fill="#1a6e4c"/>
<rect x="317.03" y="512.28" width="4.2" height="1" fill="#0b4a30"/>
<rect x="342.60" y="505.50" width="4.2" height="25.00" fill="#1a6e4c"/>
<rect x="342.60" y="513.50" width="4.2" height="1" fill="#0b4a30"/>
<rect x="368.17" y="504.50" width="4.2" height="15.00" fill="#1a6e4c"/>
<rect x="368.17" y="509.10" width="4.2" height="1" fill="#0b4a30"/>
<rect x="393.74" y="515.50" width="4.2" height="11.50" fill="#1a6e4c"/>
<rect x="393.74" y="518.91" width="4.2" height="1" fill="#0b4a30"/>
<rect x="444.88" y="505.40" width="4.2" height="49.10" fill="#1a6e4c"/>
<rect x="444.88" y="521.59" width="4.2" height="1" fill="#0b4a30"/>
<rect x="470.45" y="511.30" width="4.2" height="14.20" fill="#1a6e4c"/>
<rect x="470.45" y="515.63" width="4.2" height="1" fill="#0b4a30"/>
<rect x="123.94" y="544.50" width="4.2" height="8.00" fill="#1b4a87"/>
<rect x="123.94" y="546.72" width="4.2" height="1" fill="#0f3466"/>
<rect x="149.51" y="543.80" width="4.2" height="16.20" fill="#1b4a87"/>
<rect x="149.51" y="548.81" width="4.2" height="1" fill="#0f3466"/>
<rect x="175.08" y="514.80" width="4.2" height="12.00" fill="#1b4a87"/>
<rect x="175.08" y="518.38" width="4.2" height="1" fill="#0f3466"/>
<rect x="200.65" y="523.80" width="4.2" height="18.70" fill="#1b4a87"/>
<rect x="200.65" y="529.66" width="4.2" height="1" fill="#0f3466"/>
<rect x="226.22" y="518.80" width="4.2" height="10.00" fill="#1b4a87"/>
<rect x="226.22" y="521.70" width="4.2" height="1" fill="#0f3466"/>
<rect x="251.79" y="527.50" width="4.2" height="8.00" fill="#1b4a87"/>
<rect x="251.79" y="529.72" width="4.2" height="1" fill="#0f3466"/>
<rect x="277.36" y="532.50" width="4.2" height="10.50" fill="#1b4a87"/>
<rect x="277.36" y="535.57" width="4.2" height="1" fill="#0f3466"/>
<rect x="302.93" y="539.50" width="4.2" height="10.50" fill="#1b4a87"/>
<rect x="302.93" y="542.57" width="4.2" height="1" fill="#0f3466"/>
<rect x="328.50" y="537.50" width="4.2" height="7.50" fill="#1b4a87"/>
<rect x="328.50" y="539.55" width="4.2" height="1" fill="#0f3466"/>
<rect x="354.07" y="560.80" width="4.2" height="9.70" fill="#1b4a87"/>
<rect x="354.07" y="563.60" width="4.2" height="1" fill="#0f3466"/>
<rect x="379.64" y="551.90" width="4.2" height="4.70" fill="#1b4a87"/>
<rect x="379.64" y="553.65" width="4.2" height="1.2" fill="#0f3466"/>
<rect x="123.94" y="627.00" width="4.2" height="28.00" fill="#3aa6dc"/>
<rect x="123.94" y="636.02" width="4.2" height="1" fill="#c9e8f7"/>
<rect x="226.22" y="645.00" width="4.2" height="20.50" fill="#3aa6dc"/>
<rect x="226.22" y="651.47" width="4.2" height="1" fill="#c9e8f7"/>
<rect x="251.79" y="655.80" width="4.2" height="19.70" fill="#3aa6dc"/>
<rect x="251.79" y="662.00" width="4.2" height="1" fill="#c9e8f7"/>
<rect x="277.36" y="646.80" width="4.2" height="14.50" fill="#3aa6dc"/>
<rect x="277.36" y="651.23" width="4.2" height="1" fill="#c9e8f7"/>
<rect x="302.93" y="651.30" width="4.2" height="18.20" fill="#3aa6dc"/>
<rect x="302.93" y="656.99" width="4.2" height="1" fill="#c9e8f7"/>
<rect x="328.50" y="648.20" width="4.2" height="14.80" fill="#3aa6dc"/>
<rect x="328.50" y="652.73" width="4.2" height="1" fill="#c9e8f7"/>
<rect x="354.07" y="662.00" width="4.2" height="23.20" fill="#3aa6dc"/>
<rect x="354.07" y="669.39" width="4.2" height="1" fill="#c9e8f7"/>
<rect x="379.64" y="662.00" width="4.2" height="17.30" fill="#3aa6dc"/>
<rect x="379.64" y="667.38" width="4.2" height="1" fill="#c9e8f7"/>
<rect x="179.78" y="536.80" width="4.2" height="6.50" fill="#f29a22"/>
<rect x="179.78" y="539.45" width="4.2" height="1.2" fill="#b76a10"/>
<rect x="205.35" y="541.30" width="4.2" height="6.70" fill="#f29a22"/>
<rect x="205.35" y="544.05" width="4.2" height="1.2" fill="#b76a10"/>
<rect x="230.92" y="533.80" width="4.2" height="24.50" fill="#f29a22"/>
<rect x="230.92" y="541.63" width="4.2" height="1" fill="#b76a10"/>
<rect x="256.49" y="563.00" width="4.2" height="20.00" fill="#f29a22"/>
<rect x="256.49" y="569.30" width="4.2" height="1" fill="#b76a10"/>
<rect x="282.06" y="559.50" width="4.2" height="18.00" fill="#f29a22"/>
<rect x="282.06" y="565.12" width="4.2" height="1" fill="#b76a10"/>
<rect x="333.20" y="566.50" width="4.2" height="22.30" fill="#f29a22"/>
<rect x="333.20" y="573.58" width="4.2" height="1" fill="#b76a10"/>
<rect x="133.34" y="561.30" width="4.2" height="11.20" fill="#5a1f6d"/>
<rect x="133.34" y="564.61" width="4.2" height="1" fill="#3a0f4a"/>
<rect x="184.48" y="540.90" width="4.2" height="7.10" fill="#5a1f6d"/>
<rect x="184.48" y="542.81" width="4.2" height="1" fill="#3a0f4a"/>
<rect x="210.05" y="553.80" width="4.2" height="7.00" fill="#5a1f6d"/>
<rect x="210.05" y="556.70" width="4.2" height="1.2" fill="#3a0f4a"/>
<path d="M105.37 695.20L108.77 698.60L105.37 702.00L101.97 698.60Z" fill="#bb0f2d"/>
<path d="M130.94 588.60L134.34 592.00L130.94 595.40L127.54 592.00Z" fill="#bb0f2d"/>
<path d="M156.51 641.60L159.91 645.00L156.51 648.40L153.11 645.00Z" fill="#bb0f2d"/>
<path d="M182.08 474.80L185.48 478.20L182.08 481.60L178.68 478.20Z" fill="#bb0f2d"/>
<path d="M207.65 548.40L211.05 551.80L207.65 555.20L204.25 551.80Z" fill="#bb0f2d"/>
<path d="M233.22 649.90L236.62 653.30L233.22 656.70L229.82 653.30Z" fill="#bb0f2d"/>
<path d="M258.79 652.40L262.19 655.80L258.79 659.20L255.39 655.80Z" fill="#bb0f2d"/>
<path d="M284.36 659.10L287.76 662.50L284.36 665.90L280.96 662.50Z" fill="#bb0f2d"/>
<path d="M309.93 661.60L313.33 665.00L309.93 668.40L306.53 665.00Z" fill="#bb0f2d"/>
<path d="M335.50 653.60L338.90 657.00L335.50 660.40L332.10 657.00Z" fill="#bb0f2d"/>
<path d="M361.07 694.80L364.47 698.20L361.07 701.60L357.67 698.20Z" fill="#bb0f2d"/>
<path d="M386.64 659.60L390.04 663.00L386.64 666.40L383.24 663.00Z" fill="#bb0f2d"/>
<path d="M412.21 694.80L415.61 698.20L412.21 701.60L408.81 698.20Z" fill="#bb0f2d"/>
<path d="M437.78 657.90L441.18 661.30L437.78 664.70L434.38 661.30Z" fill="#bb0f2d"/>
<path d="M463.35 626.00L466.75 629.40L463.35 632.80L459.95 629.40Z" fill="#bb0f2d"/>
<polygon points="163.10,707.70 164.96,711.74 169.38,712.26 166.11,715.28 166.98,719.64 163.10,717.47 159.22,719.64 160.09,715.28 156.82,712.26 161.24,711.74" fill="#f7c200"/>
<rect x="132.7" y="417.4" width="18.10" height="6.40" fill="#1b4a87"/>
<text x="153.70" y="423.90" font-size="9.3" text-anchor="start" fill="#231f20">IgG1 Cluster 1</text>
<rect x="233.3" y="417.4" width="18.50" height="6.40" fill="#f29a22"/>
<text x="254.70" y="423.90" font-size="9.3" text-anchor="start" fill="#231f20">IgG2 Cluster 1</text>
<rect x="333.8" y="417.4" width="18.70" height="6.40" fill="#1a6e4c"/>
<text x="355.50" y="423.90" font-size="9.3" text-anchor="start" fill="#231f20">IgG4 Cluster 1</text>
<rect x="132.7" y="434.5" width="18.10" height="6.00" fill="#3aa6dc"/>
<text x="153.70" y="440.80" font-size="9.3" text-anchor="start" fill="#231f20">IgG1 Cluster 2</text>
<rect x="233.3" y="434.5" width="18.50" height="6.00" fill="#5a1f6d"/>
<text x="254.70" y="440.80" font-size="9.3" text-anchor="start" fill="#231f20">IgG3 Cluster 1</text>
<path d="M343.00 433.30L347.20 437.50L343.00 441.70L338.80 437.50Z" fill="#bb0f2d"/>
<text x="355.50" y="440.80" font-size="9.3" text-anchor="start" fill="#231f20">BU/ml</text>
</svg>
</body></html>
